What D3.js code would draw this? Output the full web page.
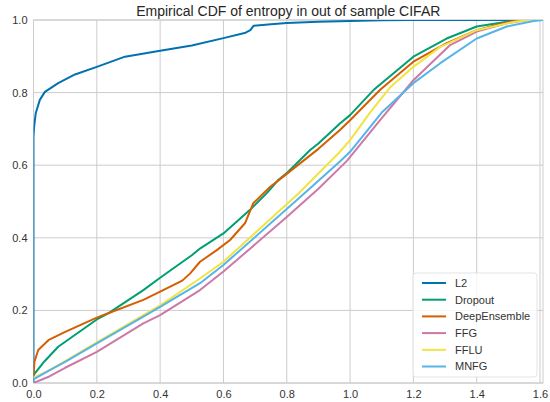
<!DOCTYPE html>
<html>
<head>
<meta charset="utf-8">
<script src="https://cdn.jsdelivr.net/npm/d3@7"></script>
<style>
  body { margin: 0; background: #fff; }
  svg text { font-family: "Liberation Sans", Arial, sans-serif; }
</style>
</head>
<body>
<div id="chart"></div>
<script>
// entropy values (x) and cumulative fraction (p)
var l2X = [0, 0, 0.002, 0.007, 0.02, 0.036, 0.078, 0.131, 0.2, 0.289, 0.4, 0.5, 0.6, 0.67, 0.685, 0.695, 0.75, 0.8, 0.9, 1.0, 1.1, 1.2, 1.4, 1.609];
var l2P = [0, 0.68, 0.706, 0.743, 0.78, 0.802, 0.826, 0.85, 0.871, 0.899, 0.915, 0.93, 0.95, 0.965, 0.972, 0.984, 0.988, 0.992, 0.995, 0.997, 0.999, 1.0, 1.0, 1.0];

var dropoutX = [0, 0.035, 0.078, 0.2, 0.236, 0.347, 0.4, 0.5, 0.527, 0.6, 0.684, 0.737, 0.773, 0.802, 0.874, 0.9, 0.968, 1.0, 1.074, 1.2, 1.305, 1.4, 1.495, 1.55, 1.609];
var dropoutP = [0.022, 0.06, 0.1, 0.175, 0.192, 0.256, 0.29, 0.352, 0.371, 0.412, 0.477, 0.523, 0.559, 0.58, 0.642, 0.66, 0.715, 0.738, 0.807, 0.899, 0.949, 0.982, 0.995, 1.0, 1.0];

var deepX = [0, 0.003, 0.015, 0.047, 0.1, 0.2, 0.236, 0.347, 0.4, 0.47, 0.495, 0.526, 0.579, 0.621, 0.668, 0.694, 0.747, 0.784, 0.9, 0.968, 1.0, 1.095, 1.2, 1.305, 1.4, 1.495, 1.55, 1.609];
var deepP = [0.02, 0.059, 0.091, 0.118, 0.141, 0.18, 0.192, 0.229, 0.252, 0.282, 0.302, 0.334, 0.366, 0.394, 0.44, 0.495, 0.54, 0.565, 0.645, 0.697, 0.724, 0.808, 0.885, 0.936, 0.972, 0.994, 1.0, 1.0];

var ffgX = [0, 0.05, 0.1, 0.2, 0.347, 0.4, 0.526, 0.6, 0.8, 0.9, 0.99, 1.1, 1.2, 1.316, 1.4, 1.5, 1.56, 1.609];
var ffgP = [0, 0.018, 0.042, 0.086, 0.164, 0.187, 0.256, 0.307, 0.457, 0.535, 0.612, 0.73, 0.834, 0.931, 0.968, 0.992, 1.0, 1.0];

var ffluX = [0, 0.05, 0.1, 0.2, 0.4, 0.526, 0.6, 0.837, 0.968, 1.0, 1.063, 1.127, 1.2, 1.285, 1.4, 1.52, 1.57, 1.609];
var ffluP = [0.015, 0.035, 0.06, 0.112, 0.214, 0.288, 0.334, 0.522, 0.637, 0.669, 0.745, 0.815, 0.871, 0.926, 0.972, 0.995, 1.0, 1.0];

var mnfgX = [0, 0.05, 0.1, 0.2, 0.347, 0.4, 0.526, 0.6, 0.832, 0.968, 1.0, 1.1, 1.2, 1.285, 1.4, 1.495, 1.58, 1.609];
var mnfgP = [0.01, 0.035, 0.058, 0.109, 0.183, 0.21, 0.275, 0.325, 0.504, 0.61, 0.637, 0.745, 0.826, 0.881, 0.949, 0.982, 0.997, 1.0];

var seriesNames = ["L2", "Dropout", "DeepEnsemble", "FFG", "FFLU", "MNFG"];
var seriesColors = ["#0072b2", "#009e73", "#d55e00", "#cc79a7", "#f0e442", "#56b4e9"];
var seriesX = [l2X, dropoutX, deepX, ffgX, ffluX, mnfgX];
var seriesP = [l2P, dropoutP, deepP, ffgP, ffluP, mnfgP];

var xTicks = [0, 0.2, 0.4, 0.6, 0.8, 1.0, 1.2, 1.4, 1.6];
var yTicks = [0, 0.2, 0.4, 0.6, 0.8, 1.0];

// layout
var W = 550, H = 402;
var margin = { top: 20, right: 7, bottom: 19, left: 33.5 };
var width = W - margin.left - margin.right;
var height = H - margin.top - margin.bottom;

var svg = d3.select("#chart").append("svg")
    .attr("width", W)
    .attr("height", H);

var g = svg.append("g")
    .attr("transform", "translate(" + margin.left + "," + margin.top + ")");

var x = d3.scaleLinear().domain([0, Math.log(5)]).range([0, width]);
var y = d3.scaleLinear().domain([0, 1]).range([height, 0]);

// grid
g.selectAll(".xgrid").data(xTicks).enter().append("line")
    .attr("x1", d => x(d)).attr("x2", d => x(d))
    .attr("y1", 0).attr("y2", height)
    .attr("stroke", "#cccccc").attr("stroke-width", 1);
g.selectAll(".ygrid").data(yTicks).enter().append("line")
    .attr("x1", 0).attr("x2", width)
    .attr("y1", d => y(d)).attr("y2", d => y(d))
    .attr("stroke", "#cccccc").attr("stroke-width", 1);

// frame
g.append("rect")
    .attr("width", width).attr("height", height)
    .attr("fill", "none").attr("stroke", "#cccccc").attr("stroke-width", 1);

// axes (labels only)
var xAxis = d3.axisBottom(x).tickValues(xTicks).tickFormat(d3.format(".1f")).tickSize(0).tickPadding(7);
var yAxis = d3.axisLeft(y).tickValues(yTicks).tickFormat(d3.format(".1f")).tickSize(0).tickPadding(6);

g.append("g").attr("transform", "translate(0," + height + ")").call(xAxis)
    .call(a => a.select(".domain").remove())
    .selectAll("text").style("font-size", "11px").attr("fill", "#333");
g.append("g").call(yAxis)
    .call(a => a.select(".domain").remove())
    .selectAll("text").style("font-size", "11px").attr("fill", "#333");

// clip
svg.append("clipPath").attr("id", "clip")
    .append("rect").attr("width", width).attr("height", height);

var line = d3.line()
    .x(d => x(d[0]))
    .y(d => y(d[1]));

var plot = g.append("g").attr("clip-path", "url(#clip)");
seriesNames.forEach(function (name, i) {
    var pts = seriesX[i].map(function (v, j) { return [v, seriesP[i][j]]; });
    plot.append("path")
        .datum(pts)
        .attr("d", line)
        .attr("fill", "none")
        .attr("stroke", seriesColors[i])
        .attr("stroke-width", 2)
        .attr("stroke-linejoin", "round");
});

// title
svg.append("text")
    .attr("x", margin.left + width / 2)
    .attr("y", 16)
    .attr("text-anchor", "middle")
    .style("font-size", "14px")
    .attr("fill", "#262626")
    .text("Empirical CDF of entropy in out of sample CIFAR");

// legend
var leg = g.append("g").attr("transform", "translate(" + (413 - margin.left) + "," + (273 - margin.top) + ")");
leg.append("rect")
    .attr("width", 124).attr("height", 104).attr("rx", 3)
    .attr("fill", "#fff").attr("fill-opacity", 0.8)
    .attr("stroke", "#dddddd").attr("stroke-opacity", 0.8);
seriesNames.forEach(function (name, i) {
    var yy = 10 + i * 16.7;
    leg.append("line")
        .attr("x1", 9).attr("x2", 33)
        .attr("y1", yy).attr("y2", yy)
        .attr("stroke", seriesColors[i]).attr("stroke-width", 2);
    leg.append("text")
        .attr("x", 42).attr("y", yy)
        .attr("dy", "0.35em")
        .style("font-size", "11px")
        .attr("fill", "#333")
        .text(name);
});
</script>
</body>
</html>
